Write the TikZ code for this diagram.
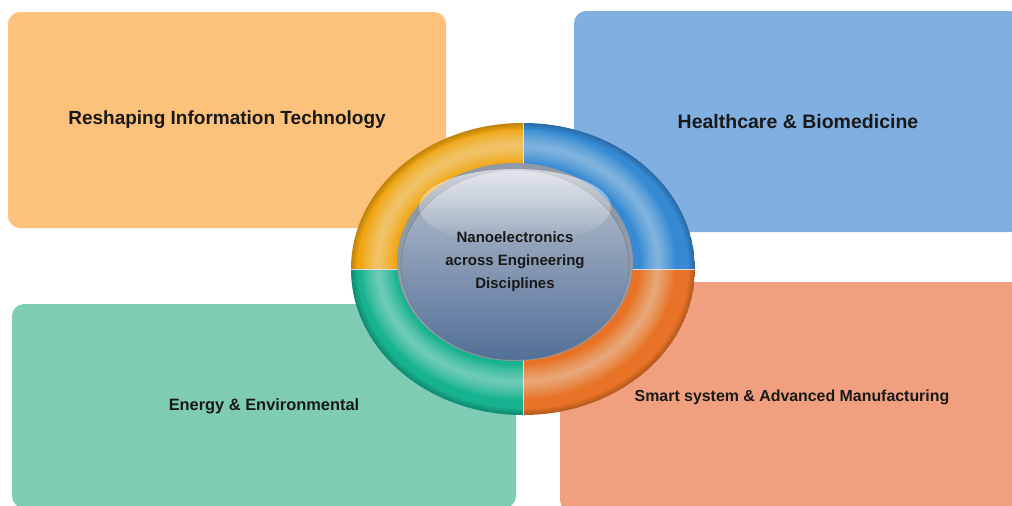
\documentclass[tikz,border=0pt]{standalone}
\usepackage{fontspec}
\setmainfont{Liberation Sans}
\usetikzlibrary{fadings}
\definecolor{itbox}{HTML}{FCC17B}
\definecolor{hcbox}{HTML}{80B0E1}
\definecolor{enbox}{HTML}{7ECCB3}
\definecolor{smbox}{HTML}{F0A07F}
\definecolor{itring}{HTML}{F0A50F}
\definecolor{hcring}{HTML}{358AD3}
\definecolor{enring}{HTML}{17B28F}
\definecolor{smring}{HTML}{E87326}
\definecolor{corerim}{HTML}{9099A6}
\definecolor{coretop}{HTML}{BAC3CF}
\definecolor{coremid}{HTML}{8393AA}
\definecolor{corebot}{HTML}{526F98}
\tikzset{field/.style={rounded corners=12pt,inner sep=0pt,text=black!90,font=\bfseries\fontsize{#1}{#1}\selectfont}}
\begin{document}
\begin{tikzpicture}[x=1pt,y=-1pt]
\useasboundingbox (0,0) rectangle (1012,506);
\clip (0,0) rectangle (1012,506);
    \node[field=19,fill=itbox,minimum width=438pt,minimum height=216pt] (it) at (227,120) {Reshaping Information Technology};
    \node[field=19.5,fill=hcbox,minimum width=448pt,minimum height=221pt] (hc) at (798,121.5) {Healthcare \& Biomedicine};
    \node[field=16.4,fill=enbox,minimum width=504pt,minimum height=204pt] (en) at (264,406) {Energy \& Environmental};
    \node[field=15.9,fill=smbox,minimum width=464pt,minimum height=230pt] (sm) at (792,397) {Smart system \& Advanced Manufacturing};
% ring in four quarters
\coordinate (rc) at (523,269);
\foreach \col/\qx/\qy in {itring/-1/-1,hcring/1/-1,enring/-1/1,smring/1/1}{
  \begin{scope}
    \clip (rc) rectangle ++(200*\qx,170*\qy);
    \clip (rc) ellipse[x radius=172,y radius=146];
    \fill[\col] (rc) ellipse[x radius=172,y radius=146];
    \foreach \w in {34,31,...,4}
      \draw[white,opacity=0.045,line width=\w pt] (518,264) ellipse[x radius=140,y radius=118];
    \foreach \w in {12,9,6,3}
      \draw[black,opacity=0.05,line width=\w pt] (rc) ellipse[x radius=172,y radius=146];
  \end{scope}
}
    \draw[white!75!gray,line width=0.7pt] (523,123) -- (523,415) (350,269) -- (696,269);
% core
    \fill[corerim] (515,262) ellipse[x radius=118,y radius=99];
    \shade[top color=coretop,middle color=coremid,bottom color=corebot,draw=corerim!80!black,line width=0.5pt] (515,265) ellipse[x radius=114,y radius=95];
    \fill[white,path fading=south,fill opacity=0.6] (515,207) ellipse[x radius=96,y radius=38];
    \node[align=center,text=black!90,font=\bfseries\fontsize{15}{23}\selectfont] (core) at (515,262) {Nanoelectronics\\across Engineering\\Disciplines};
\end{tikzpicture}
\end{document}
